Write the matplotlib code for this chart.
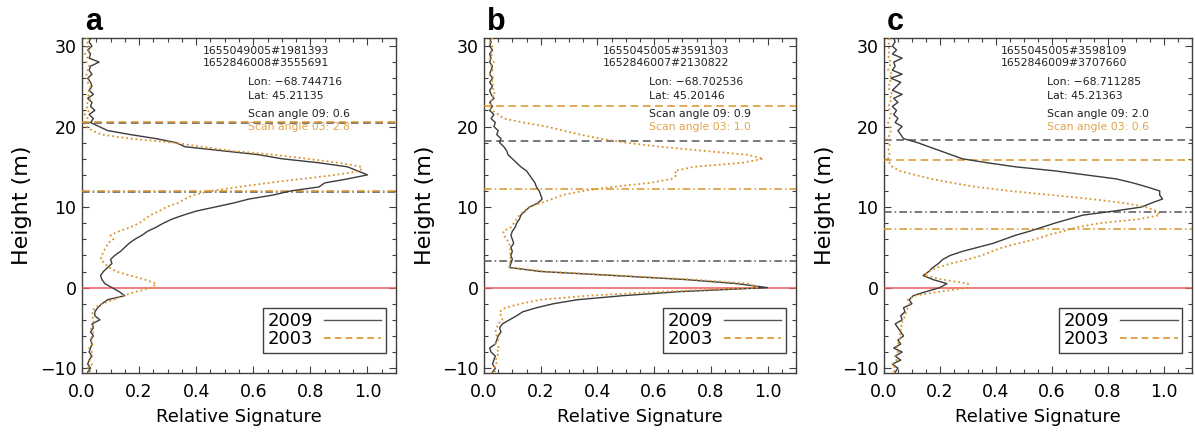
import numpy as np
import matplotlib.pyplot as plt
from matplotlib.lines import Line2D
from matplotlib.ticker import MultipleLocator

plt.rc('font', family='DejaVu Sans', size=11)

### Dati: profili, quota ogni 0.5 m da -10.5 a 31 m
altezze = np.arange(-10.5, 31.01, 0.5)

a_2009 = [0.02, 0.03, 0.02, 0.025, 0.035, 0.025, 0.03, 0.035, 0.03, 0.04, 0.03, 0.04, 0.035, 0.063,
          0.045, 0.045, 0.055, 0.07, 0.09, 0.15, 0.13, 0.105, 0.08, 0.07, 0.065, 0.075, 0.09, 0.105,
          0.1, 0.115, 0.135, 0.15, 0.165, 0.185, 0.21, 0.23, 0.26, 0.285, 0.315, 0.355, 0.4, 0.465,
          0.53, 0.585, 0.67, 0.73, 0.83, 0.85, 0.93, 1.0, 0.965, 0.93, 0.83, 0.7, 0.62, 0.49, 0.36,
          0.33, 0.26, 0.17, 0.09, 0.06, 0.03, 0.04, 0.025, 0.045, 0.03, 0.035, 0.02, 0.04, 0.025,
          0.035, 0.03, 0.02, 0.035, 0.025, 0.03, 0.06, 0.025, 0.03, 0.02, 0.035, 0.025, 0.03]
a_2003 = [0.03, 0.02, 0.035, 0.025, 0.03, 0.035, 0.025, 0.04, 0.03, 0.035, 0.04, 0.03, 0.045, 0.035,
          0.04, 0.035, 0.045, 0.07, 0.11, 0.145, 0.19, 0.245, 0.26, 0.22, 0.17, 0.12, 0.095, 0.08,
          0.065, 0.07, 0.075, 0.085, 0.09, 0.11, 0.1, 0.13, 0.17, 0.2, 0.22, 0.24, 0.27, 0.295,
          0.335, 0.36, 0.39, 0.45, 0.55, 0.65, 0.77, 0.89, 0.975, 0.98, 0.9, 0.79, 0.67, 0.52, 0.42,
          0.32, 0.17, 0.07, 0.035, 0.016, 0.015, 0.02, 0.01, 0.025, 0.015, 0.02, 0.03, 0.02, 0.025,
          0.03, 0.02, 0.025, 0.015, 0.02, 0.025, 0.015, 0.02, 0.01, 0.025, 0.015, 0.02, 0.015]

b_2009 = [0.03, 0.04, 0.03, 0.035, 0.04, 0.025, 0.02, 0.04, 0.045, 0.05, 0.06, 0.055, 0.065, 0.09,
          0.115, 0.137, 0.185, 0.245, 0.33, 0.49, 0.69, 1.0, 0.89, 0.71, 0.46, 0.2, 0.09, 0.095,
          0.1, 0.095, 0.1, 0.095, 0.105, 0.1, 0.095, 0.1, 0.11, 0.115, 0.125, 0.13, 0.145, 0.16,
          0.19, 0.205, 0.2, 0.195, 0.185, 0.18, 0.17, 0.16, 0.15, 0.13, 0.115, 0.1, 0.085, 0.08,
          0.07, 0.055, 0.06, 0.045, 0.05, 0.035, 0.04, 0.025, 0.035, 0.02, 0.03, 0.02, 0.035, 0.025,
          0.02, 0.03, 0.02, 0.03, 0.02, 0.025, 0.03, 0.02, 0.025, 0.02, 0.03, 0.02, 0.025, 0.02]
b_2003 = [0.04, 0.035, 0.045, 0.04, 0.05, 0.045, 0.055, 0.04, 0.05, 0.045, 0.04, 0.045, 0.05, 0.065,
          0.06, 0.055, 0.075, 0.13, 0.2, 0.37, 0.63, 0.97, 0.93, 0.74, 0.47, 0.22, 0.09, 0.09,
          0.095, 0.09, 0.095, 0.09, 0.09, 0.08, 0.07, 0.068, 0.095, 0.105, 0.115, 0.125, 0.14, 0.16,
          0.2, 0.24, 0.277, 0.35, 0.45, 0.585, 0.662, 0.68, 0.673, 0.74, 0.91, 0.985, 0.93, 0.77,
          0.62, 0.5, 0.41, 0.34, 0.28, 0.22, 0.14, 0.07, 0.05, 0.03, 0.02, 0.03, 0.025, 0.04, 0.03,
          0.035, 0.025, 0.035, 0.02, 0.03, 0.025, 0.035, 0.02, 0.03, 0.025, 0.03, 0.02, 0.03]

c_2009 = [0.04, 0.05, 0.03, 0.06, 0.04, 0.065, 0.035, 0.06, 0.05, 0.07, 0.06, 0.05, 0.04, 0.065,
          0.06, 0.075, 0.07, 0.1, 0.09, 0.105, 0.15, 0.2, 0.225, 0.175, 0.14, 0.16, 0.175, 0.195,
          0.21, 0.237, 0.28, 0.335, 0.39, 0.43, 0.47, 0.52, 0.565, 0.61, 0.66, 0.71, 0.82, 0.92,
          0.955, 0.995, 0.985, 0.985, 0.94, 0.89, 0.83, 0.72, 0.61, 0.47, 0.37, 0.28, 0.24, 0.2,
          0.16, 0.12, 0.07, 0.06, 0.05, 0.065, 0.04, 0.05, 0.035, 0.045, 0.03, 0.05, 0.035, 0.065,
          0.03, 0.045, 0.06, 0.025, 0.065, 0.03, 0.04, 0.035, 0.065, 0.03, 0.045, 0.03, 0.04, 0.035]
c_2003 = [0.035, 0.04, 0.03, 0.045, 0.04, 0.05, 0.045, 0.05, 0.055, 0.06, 0.055, 0.065, 0.06, 0.07,
          0.075, 0.08, 0.085, 0.09, 0.085, 0.11, 0.2, 0.3, 0.3, 0.21, 0.145, 0.16, 0.19, 0.24,
          0.3, 0.35, 0.385, 0.425, 0.48, 0.54, 0.585, 0.64, 0.69, 0.77, 0.91, 0.985, 0.975, 0.935,
          0.86, 0.74, 0.6, 0.45, 0.33, 0.245, 0.17, 0.11, 0.055, 0.03, 0.02, 0.015, 0.02, 0.015,
          0.02, 0.02, 0.015, 0.02, 0.025, 0.02, 0.015, 0.02, 0.025, 0.02, 0.015, 0.025, 0.02, 0.03,
          0.02, 0.015, 0.025, 0.02, 0.03, 0.015, 0.02, 0.025, 0.015, 0.02, 0.015, 0.02, 0.015, 0.02]

### Linee orizzontali di riferimento [m]: (tratteggio 2009, tratteggio 2003, tratto-punto 2009, tratto-punto 2003)
a_linee = [20.5, 20.6, 11.85, 11.95]
b_linee = [18.2, 22.5, 3.3, 12.3]
c_linee = [18.3, 15.9, 9.4, 7.3]

### Testi
pannelli = ['a', 'b', 'c']
id_orbite = [['1655049005#1981393', '1652846008#3555691'],
             ['1655045005#3591303', '1652846007#2130822'],
             ['1655045005#3598109', '1652846009#3707660']]
lon = ['-68.744716', '-68.702536', '-68.711285']
lat = ['45.21135', '45.20146', '45.21363']
scan_09 = ['0.6', '0.9', '2.0']
scan_03 = ['2.8', '1.0', '0.6']

profili_2009 = [a_2009, b_2009, c_2009]
profili_2003 = [a_2003, b_2003, c_2003]
linee_rif = [a_linee, b_linee, c_linee]

### Parametri grafici
colore_2009 = '#3c3c3c'
colore_2003 = '#d8942a'
colore_testo_03 = '#e0a448'
colore_zero = '#f05a5a'
posizioni_assi = [
    [0.0686, 0.1386, 0.2628, 0.7737],
    [0.4050, 0.1386, 0.2610, 0.7737],
    [0.7397, 0.1386, 0.2577, 0.7737],
]

fig = plt.figure(figsize=(11.95, 4.33), dpi=100)

for i in range(3):
    ax = fig.add_axes(posizioni_assi[i])

    ax.plot(profili_2009[i], altezze, color=colore_2009, lw=1.0, zorder=5)
    ax.plot(profili_2003[i], altezze, color=colore_2003, lw=1.3, ls=(0, (1, 1.6)), zorder=6)

    # linee di riferimento
    l = linee_rif[i]
    ax.axhline(l[0], color='#555555', lw=1.1, ls=(0, (5, 3)), zorder=3)
    ax.axhline(l[1], color=colore_2003, lw=1.1, ls=(0, (5, 3)), zorder=3)
    ax.axhline(l[2], color='#555555', lw=1.1, ls=(0, (5, 2, 1, 2)), zorder=3)
    ax.axhline(l[3], color=colore_2003, lw=1.1, ls=(0, (5, 2, 1, 2)), zorder=3)
    ax.axhline(0, color=colore_zero, lw=1.1, zorder=4)

    ax.set_xlim(0, 1.1)
    ax.set_ylim(-10.6, 31)
    ax.xaxis.set_minor_locator(MultipleLocator(0.05))
    ax.yaxis.set_major_locator(MultipleLocator(10))
    ax.yaxis.set_minor_locator(MultipleLocator(2))
    ax.set_xticks([0, 0.2, 0.4, 0.6, 0.8, 1.0])
    ax.set_xticklabels(['0.0', '0.2', '0.4', '0.6', '0.8', '1.0'])
    ax.tick_params(which='both', direction='in', top=True, right=True, color='#404040', labelsize=12.5)
    ax.tick_params(which='major', length=5, width=0.8)
    ax.tick_params(which='minor', length=3, width=0.8)
    ax.tick_params(axis='x', pad=7)
    ax.tick_params(axis='y', pad=4)
    for s in ax.spines.values():
        s.set_color('#404040')
        s.set_linewidth(1.0)

    ax.set_ylabel('Height (m)', fontsize=16)
    ax.yaxis.set_label_coords(-0.158, 0.5)
    ax.set_xlabel('Relative Signature', fontsize=13, labelpad=5)

    ax.text(0.01, 1.025, pannelli[i], transform=ax.transAxes, fontsize=22, fontweight='bold',
            va='baseline', family='Liberation Sans')

    # testi in alto a destra
    ax.text(0.585, 0.962, id_orbite[i][0], transform=ax.transAxes, fontsize=7.8, ha='center', va='center', color='#202020')
    ax.text(0.585, 0.924, id_orbite[i][1], transform=ax.transAxes, fontsize=7.8, ha='center', va='center', color='#202020')
    ax.text(0.53, 0.870, f'Lon: {lon[i]}'.replace('-', '\u2212'), transform=ax.transAxes, fontsize=7.8, va='center', color='#202020')
    ax.text(0.53, 0.828, f'Lat: {lat[i]}', transform=ax.transAxes, fontsize=7.8, va='center', color='#202020')
    ax.text(0.53, 0.773, f'Scan angle 09: {scan_09[i]}', transform=ax.transAxes, fontsize=7.8, va='center', color='#202020')
    ax.text(0.53, 0.733, f'Scan angle 03: {scan_03[i]}', transform=ax.transAxes, fontsize=7.8, va='center', color=colore_testo_03)

    # legenda con tratteggio per il 2003
    maniglie = [Line2D([], [], color='#555555', lw=1.0),
                Line2D([], [], color=colore_2003, lw=1.2, ls=(0, (4, 2.5)))]
    leg = ax.legend(maniglie, ['2009', '2003'], loc='lower right', bbox_to_anchor=(0.968, 0.06),
                    fontsize=13, markerfirst=False, handlelength=3.2, handletextpad=0.6,
                    borderpad=0.25, labelspacing=0.0, borderaxespad=0, fancybox=False,
                    edgecolor='#404040', framealpha=1)
    leg.get_frame().set_linewidth(1.0)
    leg.set_zorder(10)

plt.savefig('out.png', dpi=100)
plt.close()
